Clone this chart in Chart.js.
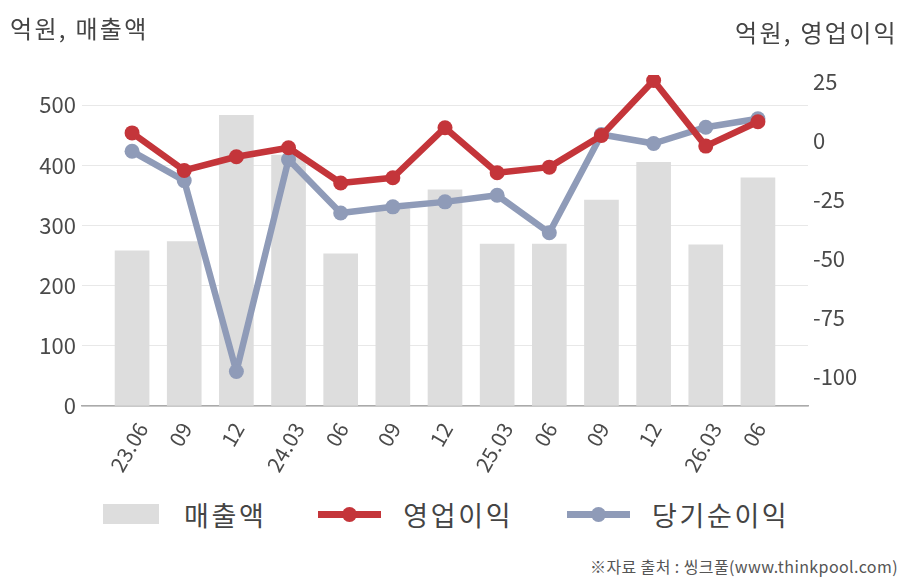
<!DOCTYPE html>
<html>
<head>
<meta charset="utf-8">
<script src="https://cdn.jsdelivr.net/npm/chart.js@4.4.1/dist/chart.umd.min.js"></script>
<style>
    body { margin: 0; background: #fff; font-family: "Noto Sans CJK KR", "Noto Sans", sans-serif; color: #444; }
    #wrap { position: relative; width: 908px; height: 580px; overflow: hidden; }
    #grafico { position: absolute; left: 0; top: 0; }
    .titulo { position: absolute; font-size: 24px; line-height: 24px; letter-spacing: 2.3px; color: #444; white-space: nowrap; }
    #legenda { position: absolute; left: 103px; top: 496px; height: 36px; display: flex; align-items: center; font-size: 27px; letter-spacing: 2.6px; color: #444; white-space: nowrap; }
    #legenda .caixa { width: 56px; height: 20px; background: #dddddd; margin-right: 25px; }
    #legenda .linha { position: relative; width: 63px; height: 7px; margin-right: 22px; }
    #legenda .linha i { position: absolute; left: 24px; top: -4px; width: 15px; height: 15px; border-radius: 50%; }
    #legenda .sep { width: 52px; }
    #fonte { position: absolute; right: 10px; top: 557px; font-size: 16px; line-height: 18px; letter-spacing: 0.4px; color: #555; white-space: nowrap; }
</style>
</head>
<body>
<div id="wrap">
    <canvas id="grafico" width="908" height="490"></canvas>
    <div class="titulo" style="left:10px; top:16px;">억원, 매출액</div>
    <div class="titulo" style="right:10px; top:20px;">억원, 영업이익</div>
    <div id="legenda">
        <span class="caixa"></span><span>매출액</span>
        <span class="sep"></span>
        <span class="linha" style="background:#c4353a;"><i style="background:#c4353a;"></i></span><span>영업이익</span>
        <span class="sep" style="width:54px;"></span>
        <span class="linha" style="background:#8f9bb8;"><i style="background:#8f9bb8;"></i></span><span>당기순이익</span>
    </div>
    <div id="fonte">※자료 출처 : 씽크풀(www.thinkpool.com)</div>
</div>
<script>
const periodos = ['23.06', '09', '12', '24.03', '06', '09', '12', '25.03', '06', '09', '12', '26.03', '06'];
const vendas = [258, 273, 483, 417, 253, 328, 359, 269, 269, 342, 405, 268, 379];
const lucroOperacional = [3.1, -12.8, -7.0, -3.2, -18.1, -15.9, 5.3, -13.8, -11.4, 2.0, 25.3, -2.5, 7.8];
const lucroLiquido = [-4.7, -17.1, -97.9, -8.2, -30.8, -28.2, -26.1, -23.3, -39.2, 2.4, -1.4, 5.5, 9.1];
const ticksEsquerda = [0, 100, 200, 300, 400, 500];
const ticksDireita = [-100, -75, -50, -25, 0, 25];

const fonteEixo = "'Noto Sans CJK KR', 'Noto Sans', sans-serif";
const pontos = arr => arr.map((v, i) => ({ x: i, y: v }));

// rótulos girados ficam centralizados na barra: desloca conforme o comprimento
function ajustarTicks(scale) {
    const porUnidade = (scale.right - scale.left) / (scale.max - scale.min) || 52;
    scale.ticks = periodos.map((p, i) => ({ value: i + ((p.length - 2) * 2.7 + 2) / porUnidade }));
}

function criarGrafico() {
    const ctx = document.getElementById('grafico').getContext('2d');
    window.graficoChart = new Chart(ctx, {
        type: 'bar',
        data: {
            datasets: [
                {
                    type: 'line',
                    label: '영업이익',
                    data: pontos(lucroOperacional),
                    yAxisID: 'y2',
                    borderColor: '#c4353a',
                    backgroundColor: '#c4353a',
                    borderWidth: 6.5,
                    borderJoinStyle: 'round',
                    pointRadius: 7.5,
                    pointBorderWidth: 0,
                    tension: 0,
                    order: 0
                },
                {
                    type: 'line',
                    label: '당기순이익',
                    data: pontos(lucroLiquido),
                    yAxisID: 'y2',
                    borderColor: '#8f9bb8',
                    backgroundColor: '#8f9bb8',
                    borderWidth: 6.5,
                    borderJoinStyle: 'round',
                    pointRadius: 7.5,
                    pointBorderWidth: 0,
                    tension: 0,
                    order: 1
                },
                {
                    type: 'bar',
                    label: '매출액',
                    data: pontos(vendas),
                    yAxisID: 'y',
                    backgroundColor: '#dddddd',
                    barThickness: 34,
                    order: 2
                }
            ]
        },
        options: {
            responsive: false,
            animation: false,
            devicePixelRatio: 1,
            layout: { padding: { top: 75, left: 0, right: 0, bottom: 0 } },
            plugins: {
                legend: { display: false },
                tooltip: { enabled: false }
            },
            scales: {
                x: {
                    type: 'linear',
                    offset: false,
                    min: -0.96,
                    max: 12.96,
                    afterBuildTicks: ajustarTicks,
                    afterFit: scale => { scale.height = 84; },
                    grid: { display: false },
                    border: { display: true, color: '#aaaaaa', width: 1.5 },
                    ticks: {
                        autoSkip: false,
                        minRotation: 60,
                        maxRotation: 60,
                        padding: 4,
                        color: '#4a4a4a',
                        font: { family: fonteEixo, size: 21 },
                        callback: v => periodos[Math.round(v)]
                    }
                },
                y: {
                    position: 'left',
                    min: 0,
                    max: 550,
                    afterBuildTicks: scale => { scale.ticks = ticksEsquerda.map(v => ({ value: v })); },
                    afterFit: scale => { scale.width = 82; },
                    grid: { color: '#e8e8e8', lineWidth: 1, drawTicks: false },
                    border: { display: false },
                    ticks: {
                        padding: 6,
                        color: '#4a4a4a',
                        font: { family: fonteEixo, size: 22 }
                    }
                },
                y2: {
                    position: 'right',
                    min: -112.5,
                    max: 27.6,
                    afterBuildTicks: scale => { scale.ticks = ticksDireita.map(v => ({ value: v })); },
                    afterFit: scale => { scale.width = 100; },
                    grid: { display: false, drawTicks: false },
                    border: { display: false },
                    ticks: {
                        padding: 5,
                        color: '#4a4a4a',
                        font: { family: fonteEixo, size: 22 }
                    }
                }
            }
        }
    });
}

criarGrafico();
</script>
</body>
</html>
